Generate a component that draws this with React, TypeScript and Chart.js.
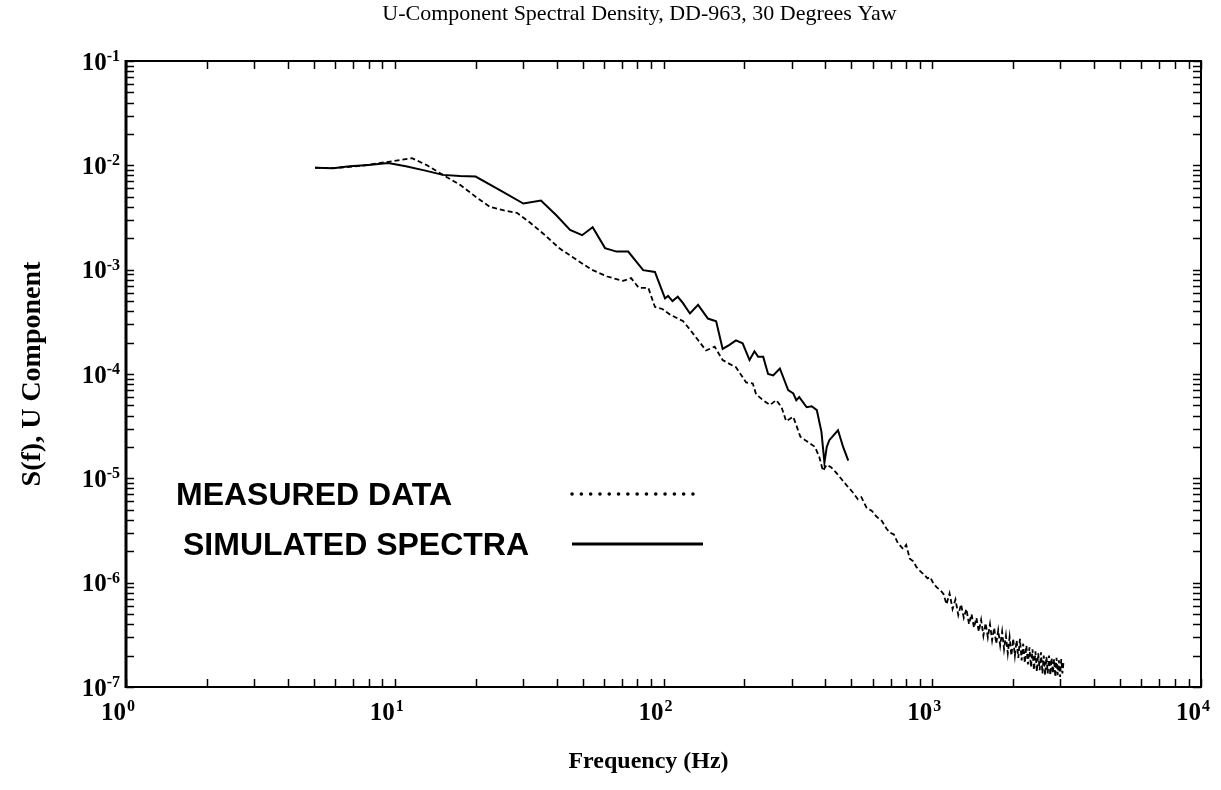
import React, { useEffect, useRef } from 'react';
import { Chart, registerables } from 'chart.js';

Chart.register(...registerables);

const TITLE = 'U-Component Spectral Density, DD-963, 30 Degrees Yaw';
const X_TITLE = 'Frequency (Hz)';
const Y_TITLE = 'S(f), U Component';
const LEGEND_LABELS = ['MEASURED DATA', 'SIMULATED SPECTRA'];

const X_EXPONENTS = [0, 1, 2, 3, 4];
const Y_EXPONENTS = [-7, -6, -5, -4, -3, -2, -1];
const MINOR_MULTS = [2, 3, 4, 5, 6, 7, 8, 9];

const MEAS_FREQ = [
  5.05, 5.9, 7.5, 9.45, 11.6, 13.2, 15.1, 17.5, 20.0, 22.6, 25.5, 28.5, 32, 35.8, 41, 47.6, 54,
  61.7, 70.7, 75.8, 80.9, 87.8, 92.9, 99, 106, 118.4, 125, 134.5, 144, 155, 166, 176, 186, 203,
  215, 221, 235, 249, 263, 275, 286, 304, 323, 336, 352, 366, 380, 392, 405, 420, 438, 460, 487,
  505, 529, 545, 570, 595, 620, 650, 675, 698, 720, 745, 780, 800, 825, 850, 874, 900, 930, 960,
  983, 1010, 1040, 1070, 1101, 1130, 1160, 1190, 1220, 1250, 1280, 1310, 1340, 1370, 1400, 1430,
  1460, 1490, 1520, 1550, 1580, 1610, 1640, 1670, 1700, 1730, 1760, 1790, 1820, 1850, 1880, 1910,
  1940, 1970, 2000, 2030, 2060, 2090, 2120, 2150, 2180, 2210, 2240, 2270, 2300, 2330, 2360, 2390,
  2420, 2450, 2480, 2510, 2540, 2570, 2600, 2630, 2660, 2690, 2720, 2750, 2780, 2810, 2840, 2870,
  2900, 2930, 2960, 2990, 3020, 3050, 3080,
];
const MEAS_S = [
  0.0095, 0.0094, 0.0099, 0.0108, 0.0117, 0.01, 0.0081, 0.0065, 0.005, 0.004, 0.0037, 0.0035,
  0.0028, 0.0022, 0.0016, 0.00124, 0.001, 0.00086, 0.00078, 0.00083, 0.00067, 0.00067, 0.00044,
  0.00042, 0.00037, 0.00032, 0.00027, 0.000211, 0.000168, 0.000183, 0.000136, 0.000125, 0.000116,
  0.000083, 0.000081, 0.000064, 0.000056, 0.0000505, 0.0000562, 0.000048, 0.0000353, 0.0000389,
  0.0000251, 0.0000233, 0.0000215, 0.00002, 0.000016, 0.0000118, 0.0000135, 0.0000128, 0.0000114,
  0.0000098, 0.0000082, 0.0000074, 0.0000063, 0.0000066, 0.0000052, 0.0000049, 0.0000043,
  0.0000039, 0.0000033, 0.000003, 0.0000029, 0.0000024, 0.0000021, 0.0000023, 0.0000017,
  0.0000016, 0.00000141, 0.0000013, 0.0000012, 0.0000011, 0.00000113, 0.00000098, 0.0000009,
  0.00000085, 0.00000078, 6.2e-7, 7.9e-7, 5.6e-7, 6.9e-7, 4.9e-7, 6.2e-7, 4.6e-7, 5.6e-7, 4.0e-7,
  5.0e-7, 3.7e-7, 4.6e-7, 3.4e-7, 4.4e-7, 3.1e-7, 4.1e-7, 3.0e-7, 4.0e-7, 2.8e-7, 3.7e-7, 2.6e-7,
  3.5e-7, 2.5e-7, 3.4e-7, 2.3e-7, 3.1e-7, 2.1e-7, 3.0e-7, 2.0e-7, 2.9e-7, 2.0e-7, 2.8e-7, 1.9e-7,
  2.9e-7, 1.8e-7, 2.6e-7, 1.7e-7, 2.5e-7, 1.65e-7, 2.4e-7, 1.55e-7, 2.3e-7, 1.45e-7, 2.2e-7,
  1.4e-7, 2.1e-7, 1.45e-7, 2.15e-7, 1.35e-7, 2.0e-7, 1.3e-7, 1.95e-7, 1.35e-7, 2.0e-7, 1.3e-7,
  1.9e-7, 1.35e-7, 1.85e-7, 1.25e-7, 1.9e-7, 1.3e-7, 1.8e-7, 1.25e-7, 1.85e-7, 1.35e-7, 1.75e-7,
];

const SIM_FREQ = [
  5.05, 5.9, 6.8, 8.0, 9.45, 11.0, 13.0, 15.1, 17.5, 20.0, 24.6, 30.1, 35.0, 40.0, 44.9, 49.8,
  54.5, 60.6, 66.9, 73.9, 84, 92.9, 101.3, 104, 108, 113, 118, 125.4, 134.5, 146.3, 157, 166, 176,
  186, 197, 209, 218, 225, 235, 245, 256, 271, 291, 304, 312, 320, 341, 356, 372, 387, 397, 405,
  414, 430, 446, 466, 487,
];
const SIM_S = [
  0.0095, 0.0094, 0.0098, 0.0101, 0.0105, 0.0098, 0.0089, 0.0081, 0.0079, 0.0078, 0.0058, 0.0043,
  0.0046, 0.0033, 0.0024, 0.00214, 0.00255, 0.00161, 0.00149, 0.00149, 0.00099, 0.00095, 0.00053,
  0.00056, 0.0005, 0.00055, 0.00048, 0.00038, 0.00046, 0.00034, 0.00032, 0.000174, 0.00019,
  0.00021, 0.000197, 0.000136, 0.000165, 0.000146, 0.000146, 0.0001, 0.000097, 0.000113, 0.00007,
  0.000065, 0.000056, 0.00006, 0.000048, 0.000049, 0.000045, 0.0000279, 0.0000141, 0.00002,
  0.0000232, 0.000026, 0.0000289, 0.00002, 0.0000148,
];

const SERIF = '"Liberation Serif", "DejaVu Serif", serif';
const SANS = '"Liberation Sans", Arial, sans-serif';

function toPoints(xs: number[], ys: number[]) {
  return xs.map((x, i) => ({ x, y: ys[i] }));
}

const inkPlugin = {
  id: 'ink',
  afterDraw(chart: any) {
    const { ctx, chartArea: a } = chart;
    const xs = chart.scales.x;
    const ys = chart.scales.y;
    ctx.save();
    ctx.strokeStyle = '#000';
    ctx.fillStyle = '#000';

    // frame
    ctx.lineWidth = 2;
    ctx.beginPath();
    ctx.moveTo(a.left, a.top);
    ctx.lineTo(a.right, a.top);
    ctx.lineTo(a.right, a.bottom);
    ctx.lineTo(a.left, a.bottom);
    ctx.stroke();
    ctx.lineWidth = 3;
    ctx.beginPath();
    ctx.moveTo(a.left, a.top - 1);
    ctx.lineTo(a.left, a.bottom + 1);
    ctx.stroke();

    // ticks
    const L = 8;
    ctx.lineWidth = 1.5;
    ctx.beginPath();
    X_EXPONENTS.forEach((e) => {
      const dec = Math.pow(10, e);
      [1, ...MINOR_MULTS].forEach((m) => {
        const v = m * dec;
        if (v < xs.min || v > xs.max) return;
        const px = Math.round(xs.getPixelForValue(v)) + 0.5;
        ctx.moveTo(px, a.bottom);
        ctx.lineTo(px, a.bottom - L);
        ctx.moveTo(px, a.top);
        ctx.lineTo(px, a.top + L);
      });
    });
    Y_EXPONENTS.forEach((e) => {
      const dec = Math.pow(10, e);
      [1, ...MINOR_MULTS].forEach((m) => {
        const v = m * dec;
        if (v < ys.min * 0.999 || v > ys.max * 1.001) return;
        const py = Math.round(ys.getPixelForValue(v)) + 0.5;
        ctx.moveTo(a.left, py);
        ctx.lineTo(a.left + L, py);
        ctx.moveTo(a.right, py);
        ctx.lineTo(a.right - L, py);
      });
    });
    ctx.stroke();

    const bigFont = 'bold 25px ' + SERIF;
    const supFont = 'bold 16px ' + SERIF;

    // x tick labels
    X_EXPONENTS.forEach((e) => {
      const px = xs.getPixelForValue(Math.pow(10, e));
      ctx.font = bigFont;
      ctx.textAlign = 'right';
      ctx.textBaseline = 'alphabetic';
      ctx.fillText('10', px, 720);
      ctx.font = supFont;
      ctx.textAlign = 'left';
      ctx.fillText(String(e), px + 1, 711);
    });

    // y tick labels
    Y_EXPONENTS.forEach((e) => {
      const py = ys.getPixelForValue(Math.pow(10, e));
      const sup = String(e);
      ctx.font = supFont;
      const sw = ctx.measureText(sup).width;
      ctx.textAlign = 'right';
      ctx.textBaseline = 'alphabetic';
      const right = a.left - 6;
      ctx.fillText(sup, right, py);
      ctx.font = bigFont;
      ctx.fillText('10', right - sw, py + 8.5);
    });

    // title
    ctx.font = '22px ' + SERIF;
    ctx.textAlign = 'center';
    ctx.textBaseline = 'alphabetic';
    ctx.fillText(TITLE, (a.left + a.right) / 2 - 24, 20);

    // x title
    ctx.font = 'bold 24px ' + SERIF;
    ctx.fillText(X_TITLE, (a.left + a.right) / 2 - 15, 768);

    // y title
    ctx.save();
    ctx.translate(40, (a.top + a.bottom) / 2);
    ctx.rotate(-Math.PI / 2);
    ctx.font = 'bold 28px ' + SERIF;
    ctx.textAlign = 'center';
    ctx.fillText(Y_TITLE, 0, 0);
    ctx.restore();

    // legend
    ctx.font = 'bold 32px ' + SANS;
    ctx.textAlign = 'left';
    ctx.textBaseline = 'middle';
    ctx.fillText(LEGEND_LABELS[0], 176, 496);
    ctx.fillText(LEGEND_LABELS[1], 183, 546);

    ctx.lineCap = 'round';
    ctx.lineWidth = 3.5;
    ctx.setLineDash([0.1, 9.2]);
    ctx.beginPath();
    ctx.moveTo(572, 494);
    ctx.lineTo(700, 494);
    ctx.stroke();
    ctx.setLineDash([]);
    ctx.lineCap = 'butt';
    ctx.lineWidth = 3;
    ctx.beginPath();
    ctx.moveTo(572, 544);
    ctx.lineTo(703, 544);
    ctx.stroke();

    ctx.restore();
  },
};

export default function App() {
  const ref = useRef<HTMLCanvasElement | null>(null);
  useEffect(() => {
    document.body.style.margin = '0';
    const canvas = ref.current;
    if (!canvas) return;
    const chart = new Chart(canvas, {
      type: 'line',
      data: {
        datasets: [
          {
            label: LEGEND_LABELS[0],
            data: toPoints(MEAS_FREQ, MEAS_S),
            borderColor: '#000',
            borderWidth: 1.8,
            borderDash: [5, 3],
            pointRadius: 0,
            tension: 0,
            fill: false,
          },
          {
            label: LEGEND_LABELS[1],
            data: toPoints(SIM_FREQ, SIM_S),
            borderColor: '#000',
            borderWidth: 2,
            pointRadius: 0,
            tension: 0,
            fill: false,
          },
        ],
      },
      options: {
        responsive: false,
        animation: false,
        devicePixelRatio: 1,
        layout: { padding: { left: 126, right: 20, top: 61, bottom: 103 } },
        plugins: { legend: { display: false }, title: { display: false }, tooltip: { enabled: false } },
        scales: {
          x: {
            type: 'logarithmic',
            min: 1,
            max: 10000,
            ticks: { display: false },
            grid: { display: false, drawTicks: false },
            border: { display: false },
          },
          y: {
            type: 'logarithmic',
            min: 1e-7,
            max: 1e-1,
            ticks: { display: false },
            grid: { display: false, drawTicks: false },
            border: { display: false },
          },
        },
      },
      plugins: [inkPlugin],
    });
    return () => chart.destroy();
  }, []);
  return (
    <div style={{ position: 'fixed', left: 0, top: 0, width: 1221, height: 790, background: '#fff' }}>
      <canvas ref={ref} width={1221} height={790} style={{ width: 1221, height: 790 }} />
    </div>
  );
}
